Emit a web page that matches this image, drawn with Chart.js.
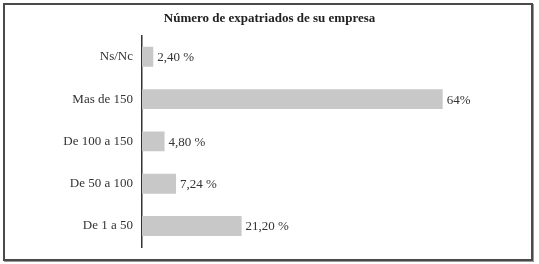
<!DOCTYPE html>
<html>
<head>
<meta charset="utf-8">
<script src="https://cdn.jsdelivr.net/npm/chart.js@4.4.0/dist/chart.umd.min.js"></script>
<style>
  html, body { margin: 0; padding: 0; background: #fff; }
  #wrap { position: relative; width: 539px; height: 264px; }
  #frame {
    position: absolute; left: 3px; top: 3px; width: 526px; height: 254px;
    border: 2px solid #4a4a4a; box-shadow: 1px 1px 0 #999;
  }
  canvas { position: absolute; left: 0; top: 0; }
</style>
</head>
<body>
<div id="wrap">
  <div id="frame"></div>
  <canvas id="chart" width="539" height="264"></canvas>
</div>
<script>
const categories = ['Ns/Nc', 'Mas de 150', 'De 100 a 150', 'De 50 a 100', 'De 1 a 50'];
const values = [2.40, 64, 4.80, 7.24, 21.20];
const valueLabels = ['2,40 %', '64%', '4,80 %', '7,24 %', '21,20 %'];
const title = 'Número de expatriados de su empresa';

const serif = '"Liberation Serif", "DejaVu Serif", serif';

// writes the percentage next to each bar
const barValues = {
  id: 'barValues',
  afterDatasetsDraw(chart) {
    const ctx = chart.ctx;
    const meta = chart.getDatasetMeta(0);
    ctx.save();
    ctx.font = '13px ' + serif;
    ctx.fillStyle = '#333';
    ctx.textAlign = 'left';
    ctx.textBaseline = 'middle';
    meta.data.forEach((bar, i) => {
      ctx.fillText(valueLabels[i], bar.x + 4, bar.y + 1);
    });
    ctx.restore();
  }
};

new Chart(document.getElementById('chart').getContext('2d'), {
  type: 'bar',
  data: {
    labels: categories,
    datasets: [{
      data: values,
      backgroundColor: '#c8c8c8',
      borderWidth: 0,
      categoryPercentage: 1,
      barPercentage: 0.47
    }]
  },
  options: {
    indexAxis: 'y',
    responsive: false,
    animation: false,
    layout: { padding: { left: 0, right: 0, top: 0, bottom: 15 } },
    scales: {
      x: {
        display: false,
        min: 0,
        max: 84.5
      },
      y: {
        afterFit: (scale) => { scale.width = 142; },
        grid: { display: false, drawTicks: false },
        border: { display: true, color: '#333', width: 1.5 },
        ticks: {
          padding: 9,
          color: '#333',
          font: { family: serif, size: 13 }
        }
      }
    },
    plugins: {
      legend: { display: false },
      tooltip: { enabled: false },
      title: {
        display: true,
        text: title,
        color: '#222',
        font: { family: serif, size: 13, weight: 'bold' },
        padding: { top: 11, bottom: 9 }
      }
    }
  },
  plugins: [barValues]
});
</script>
</body>
</html>
